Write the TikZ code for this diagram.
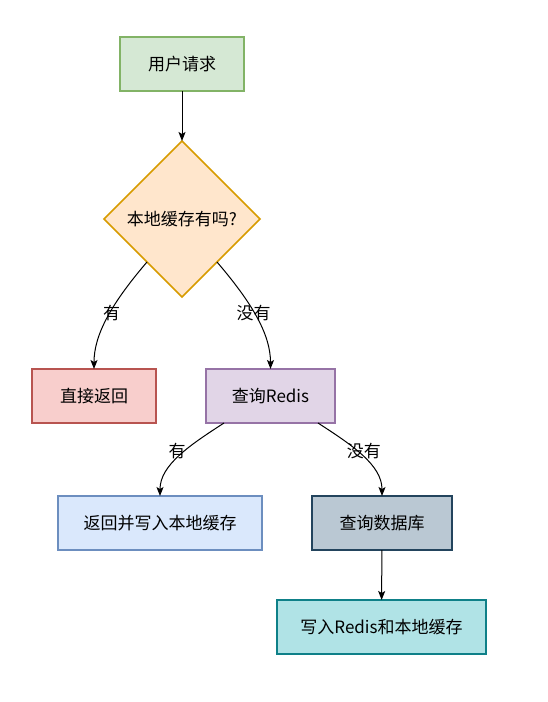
\documentclass[tikz,border=0pt]{standalone}
\usepackage{fontspec}
\setmainfont{Noto Sans CJK SC}
\usetikzlibrary{shapes.geometric,arrows.meta,calc}
\definecolor{gfill}{HTML}{D5E8D4}\definecolor{gline}{HTML}{82B366}
\definecolor{ofill}{HTML}{FFE6CC}\definecolor{oline}{HTML}{D79B00}
\definecolor{rfill}{HTML}{F8CECC}\definecolor{rline}{HTML}{B85450}
\definecolor{pfill}{HTML}{E1D5E7}\definecolor{pline}{HTML}{9673A6}
\definecolor{bfill}{HTML}{DAE8FC}\definecolor{bline}{HTML}{6C8EBF}
\definecolor{sfill}{HTML}{BAC8D3}\definecolor{sline}{HTML}{23445D}
\definecolor{tfill}{HTML}{B0E3E6}\definecolor{tline}{HTML}{0E8088}
\begin{document}
\begin{tikzpicture}[x=1pt,y=-1pt,
  txt/.style={font=\fontsize{17}{20}\selectfont},
  box/.style={txt, draw, line width=1.6pt, minimum height=54pt, inner sep=0pt, outer sep=0pt},
  conn/.style={line width=1pt, black, -{Stealth[length=9pt,width=7pt,inset=2pt]}},
  lbl/.style={txt, inner sep=1pt}]
\useasboundingbox (0,0) rectangle (548,702);
\node[box, fill=gfill, draw=gline, minimum width=124pt] (req) at (182,64) {用户请求};
\node[txt, shape=diamond, draw=oline, fill=ofill, line width=1.6pt, minimum width=156pt, minimum height=156pt, inner sep=0pt, outer sep=0pt] (loc) at (182,219) {本地缓存有吗?};
\node[box, fill=rfill, draw=rline, minimum width=124pt] (ret) at (94,396) {直接返回};
\node[box, fill=pfill, draw=pline, minimum width=129pt] (redis) at (270.5,396) {查询Redis};
\node[box, fill=bfill, draw=bline, minimum width=204pt] (wb) at (160,523) {返回并写入本地缓存};
\node[box, fill=sfill, draw=sline, minimum width=140pt] (db) at (382,523) {查询数据库};
\node[box, fill=tfill, draw=tline, minimum width=209pt] (wr) at (381.5,627) {写入Redis和本地缓存};

\draw[conn] (req) -- (loc);
\draw[conn] ([shift={(4,4)}]loc.south west) .. controls ++(-36,42) and ++(0,-34) .. (ret.north)
  node[lbl, pos=0.42, yshift=-3pt] (l1) {有};
\draw[conn] ([shift={(-4,4)}]loc.south east) .. controls ++(36,42) and ++(0,-34) .. (redis.north)
  node[lbl, pos=0.42, yshift=-3pt, xshift=1pt] (l2) {没有};
\draw[conn] ([xshift=18pt]redis.south west) .. controls ++(-34,22) and ++(0,-31) .. (wb.north)
  node[lbl, pos=0.42, xshift=-8pt] (l3) {有};
\draw[conn] ([xshift=-17pt]redis.south east) .. controls ++(34,22) and ++(0,-31) .. (db.north)
  node[lbl, pos=0.42, xshift=7pt] (l4) {没有};
\draw[conn] (db) -- (wr);
\end{tikzpicture}
\end{document}
